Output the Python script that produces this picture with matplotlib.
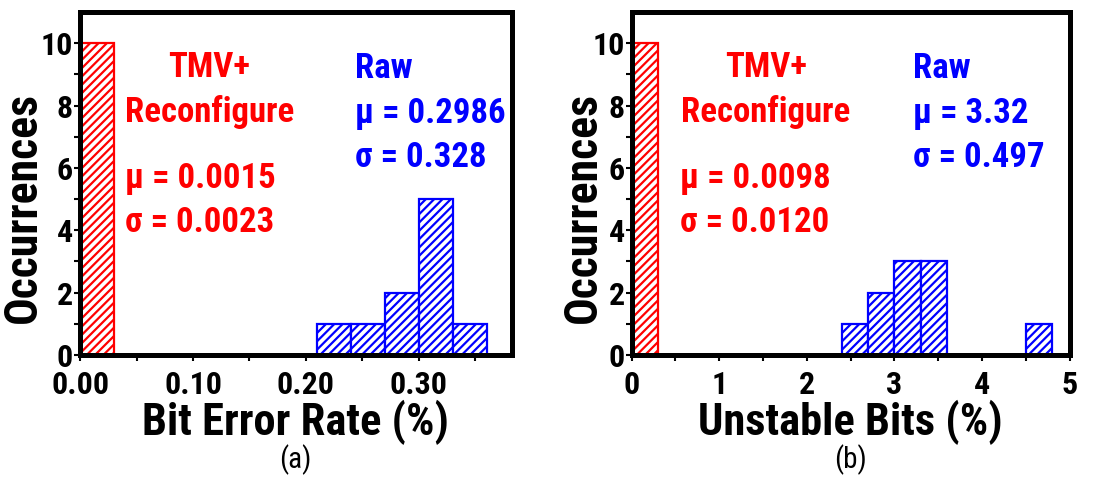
import numpy as np
import matplotlib
matplotlib.use("Agg")
import matplotlib.pyplot as plt

FONT = ["Roboto Condensed", "DejaVu Sans"]
plt.rcParams["font.family"] = FONT
plt.rcParams["hatch.linewidth"] = 1.6

# (a) bit error rate histogram
ber_tmv_edges = [0.00, 0.03]
ber_tmv_counts = [10]
ber_raw_edges = [0.21, 0.24, 0.27, 0.30, 0.33, 0.36]
ber_raw_counts = [1, 1, 2, 5, 1]

# (b) unstable bits histogram
ub_tmv_edges = [0.0, 0.3]
ub_tmv_counts = [10]
ub_raw_edges = [2.4, 2.7, 3.0, 3.3, 3.6, 3.9, 4.2, 4.5, 4.8]
ub_raw_counts = [1, 2, 3, 3, 0, 0, 0, 1]

panels = [
    dict(tmv=(ber_tmv_edges, ber_tmv_counts), raw=(ber_raw_edges, ber_raw_counts),
         xlim=(0, 0.382), major=[0.0, 0.1, 0.2, 0.3], minor=0.05,
         ticklabels=["0.00", "0.10", "0.20", "0.30"],
         xlabel="Bit Error Rate (%)", tag="(a)",
         tmv_stats=["μ = 0.0015", "σ = 0.0023"], raw_stats=["μ = 0.2986", "σ = 0.328"],
         pos=[0.072, 0.265, 0.388, 0.710], ylab_x=-0.081, tmv_x=0.30, stat_x=0.104, raw_x=0.637),
    dict(tmv=(ub_tmv_edges, ub_tmv_counts), raw=(ub_raw_edges, ub_raw_counts),
         xlim=(0, 5), major=[0, 1, 2, 3, 4, 5], minor=0.5,
         ticklabels=["0", "1", "2", "3", "4", "5"],
         xlabel="Unstable Bits (%)", tag="(b)",
         tmv_stats=["μ = 0.0098", "σ = 0.0120"], raw_stats=["μ = 3.32", "σ = 0.497"],
         pos=[0.568, 0.265, 0.394, 0.710], ylab_x=-0.062, tmv_x=0.306, stat_x=0.11, raw_x=0.642),
]

fig = plt.figure(figsize=(11.12, 4.83), dpi=100)

for p in panels:
    ax = fig.add_axes(p["pos"])
    for (edges, counts), col in [(p["tmv"], "red"), (p["raw"], "blue")]:
        edges = np.array(edges)
        counts = np.array(counts)
        keep = counts > 0
        ax.bar(edges[:-1][keep], counts[keep], width=np.diff(edges)[keep], align="edge",
               facecolor="white", edgecolor=col, hatch="////", linewidth=1.6, zorder=2)
    ax.set_xlim(*p["xlim"])
    ax.set_ylim(0, 11)
    ax.set_yticks([0, 2, 4, 6, 8, 10])
    ax.set_yticks([1, 3, 5, 7, 9], minor=True)
    ax.set_xticks(p["major"])
    ax.set_xticklabels(p["ticklabels"])
    ax.set_xticks(np.arange(p["minor"], p["xlim"][1], p["minor"] * 2), minor=True)
    for s in ax.spines.values():
        s.set_linewidth(3.6)
    ax.tick_params(axis="x", which="both", direction="out", length=4, width=1.5, pad=7)
    ax.tick_params(axis="y", which="both", direction="out", length=4, width=1.5, pad=1)
    for lab in ax.get_xticklabels() + ax.get_yticklabels():
        lab.set_fontsize(23)
        lab.set_fontweight("bold")
    ax.set_xlabel(p["xlabel"], fontsize=32, fontweight="bold", labelpad=0)
    ax.set_ylabel("Occurrences", fontsize=33, fontweight="bold")
    ax.yaxis.set_label_coords(p["ylab_x"], 0.43)
    ax.text(0.5, -0.306, p["tag"], transform=ax.transAxes, ha="center", va="center", fontsize=21)

    kw = dict(transform=ax.transAxes, va="baseline", fontsize=25, fontweight="bold")
    ax.text(p["tmv_x"], 0.810, "TMV+", ha="center", color="red", **kw)
    ax.text(p["tmv_x"], 0.679, "Reconfigure", ha="center", color="red", **kw)
    ax.text(p["stat_x"], 0.487, p["tmv_stats"][0], ha="left", color="red", **kw)
    ax.text(p["stat_x"], 0.359, p["tmv_stats"][1], ha="left", color="red", **kw)
    ax.text(p["raw_x"], 0.808, "Raw", ha="left", color="blue", **kw)
    ax.text(p["raw_x"], 0.676, p["raw_stats"][0], ha="left", color="blue", **kw)
    ax.text(p["raw_x"], 0.548, p["raw_stats"][1], ha="left", color="blue", **kw)

fig.savefig("out.png", dpi=100)
